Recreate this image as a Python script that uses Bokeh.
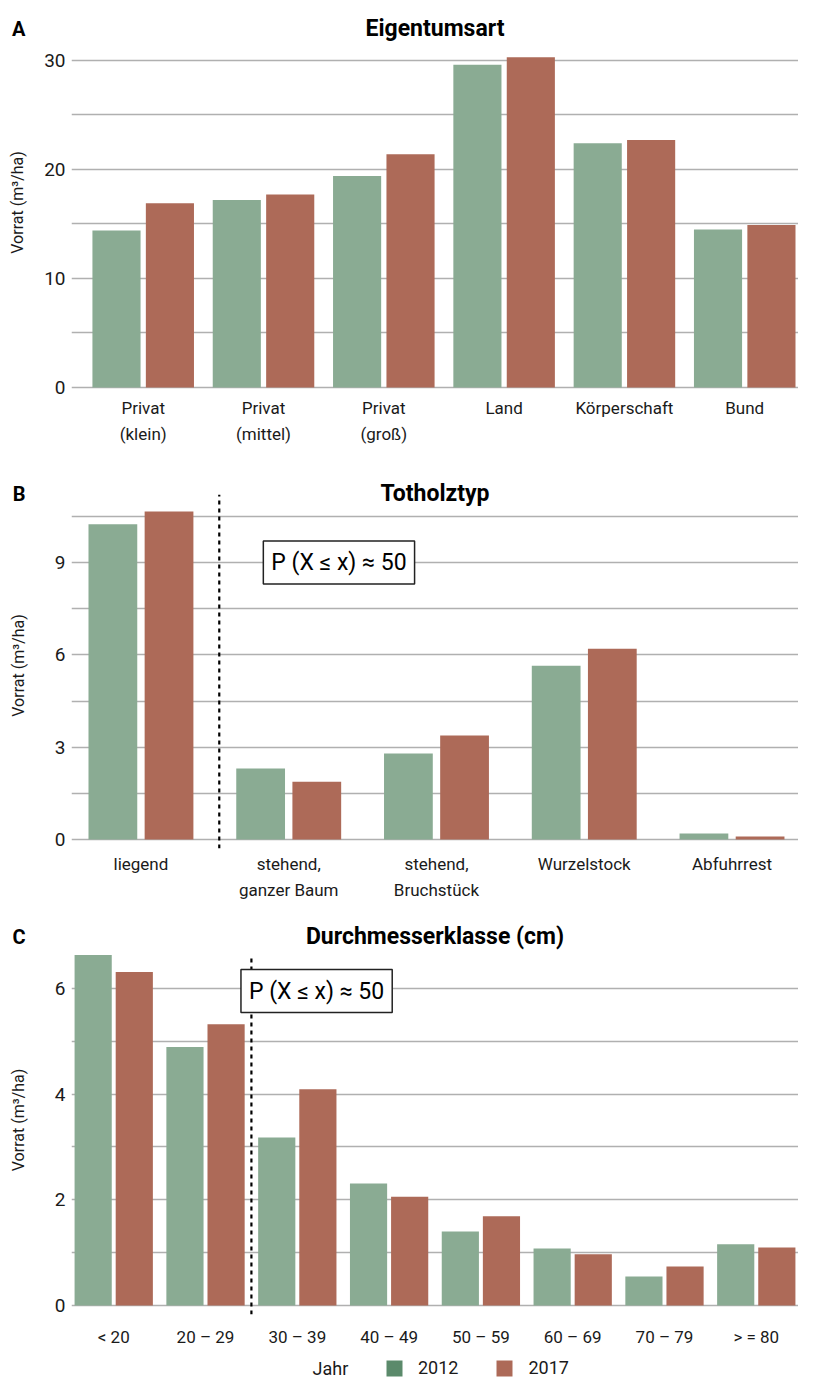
from bokeh.plotting import figure
from bokeh.layouts import column
from bokeh.models import (Range1d, FixedTicker, Label, Legend, LegendItem,
                          ColumnDataSource, LinearAxis, CustomJSTickFormatter)
from bokeh.embed import file_html
from bokeh.resources import INLINE
import numpy as np

FONT = "Roboto"
GREEN = "#8aab93"
GREEN_LEG = "#5b8a6b"
RED = "#ad6a58"
GRID = "#b0b0b0"
TXT = "#1a1a1a"

# ---- data ----
cats_a = ["Privat\n(klein)", "Privat\n(mittel)", "Privat\n(groß)", "Land", "Körperschaft", "Bund"]
a_2012 = [14.4, 17.2, 19.4, 29.6, 22.4, 14.5]
a_2017 = [16.9, 17.7, 21.4, 30.3, 22.7, 14.9]

cats_b = ["liegend", "stehend,\nganzer Baum", "stehend,\nBruchstück", "Wurzelstock", "Abfuhrrest"]
b_2012 = [10.24, 2.31, 2.80, 5.65, 0.20]
b_2017 = [10.66, 1.88, 3.38, 6.20, 0.10]

cats_c = ["< 20", "20 – 29", "30 – 39", "40 – 49", "50 – 59", "60 – 69", "70 – 79", "> = 80"]
c_2012 = [6.63, 4.89, 3.18, 2.31, 1.40, 1.08, 0.55, 1.16]
c_2017 = [6.31, 5.32, 4.09, 2.06, 1.69, 0.97, 0.74, 1.10]

years = ["2012", "2017"]
legend_title = "Jahr"
y_label = "Vorrat (m³/ha)"
annot = "P (X ≤ x) ≈ 50"

FW = 727
LEFT = 71


def panel(letter, title, cats, v1, v2, xr, yr, yticks, gticks, fh, top, bottom,
          width, off, lab_standoff, toff, xstand=5, line_x=None, box=None,
          dash_bottom=None, dash_top=None):
    n = len(cats)
    idx = np.arange(1, n + 1)
    p = figure(frame_width=FW, frame_height=fh, x_range=Range1d(*xr), y_range=Range1d(*yr),
               toolbar_location=None, output_backend="svg",
               min_border_left=LEFT, min_border_right=0, min_border_top=top,
               min_border_bottom=bottom)
    p.outline_line_color = None
    p.background_fill_color = "white"
    p.border_fill_color = "white"
    src = ColumnDataSource(dict(x1=idx - off, x2=idx + off, v1=v1, v2=v2))
    p.vbar(x="x1", top="v1", bottom=0, width=width, source=src, fill_color=GREEN, line_color=None)
    p.vbar(x="x2", top="v2", bottom=0, width=width, source=src, fill_color=RED, line_color=None)

    p.xgrid.visible = False
    p.ygrid.ticker = FixedTicker(ticks=gticks)
    p.ygrid.grid_line_color = GRID
    p.ygrid.grid_line_width = 1.4
    p.ygrid.level = "underlay"

    ya = p.yaxis[0]
    ya.ticker = FixedTicker(ticks=yticks)
    ya.axis_line_color = None
    ya.major_tick_line_color = None
    ya.minor_tick_line_color = None
    ya.major_tick_out = 0
    ya.minor_tick_out = 0
    ya.major_label_text_font = FONT
    ya.major_label_text_font_size = "19px"
    ya.major_label_text_color = TXT
    ya.major_label_standoff = 6
    ya.axis_label = y_label
    ya.axis_label_text_font = FONT
    ya.axis_label_text_font_size = "16px"
    ya.axis_label_text_font_style = "normal"
    ya.axis_label_text_color = TXT
    ya.axis_label_standoff = lab_standoff

    xa = p.xaxis[0]
    xa.ticker = FixedTicker(ticks=list(idx))
    xa.major_label_overrides = {int(i): c for i, c in zip(idx, cats)}
    xa.axis_line_color = None
    xa.major_tick_line_color = None
    xa.minor_tick_line_color = None
    xa.major_tick_out = 0
    xa.minor_tick_out = 0
    xa.major_label_text_font = FONT
    xa.major_label_text_font_size = "17px"
    xa.major_label_text_color = TXT
    xa.major_label_text_line_height = 1.3
    xa.major_label_standoff = xstand

    # panel letter as the tick label of an extra, outer left axis
    ly = yr[1] - toff * (yr[1] - yr[0]) / fh
    la = LinearAxis(ticker=FixedTicker(ticks=[ly]),
                    formatter=CustomJSTickFormatter(code="return '%s'" % letter),
                    axis_line_color=None, major_tick_line_color=None,
                    minor_tick_line_color=None, major_tick_out=0, minor_tick_out=0,
                    major_label_standoff=-20, major_label_text_font=FONT,
                    major_label_text_font_size="20px", major_label_text_font_style="bold",
                    major_label_text_color="black")
    p.add_layout(la, "left")

    # main title
    p.add_layout(Label(x=(xr[0] + xr[1]) / 2, y=fh - toff, x_units="data", y_units="screen",
                       text=title, text_font=FONT, text_font_size="23px",
                       text_font_style="bold", text_align="center", text_baseline="middle",
                       text_color="black"))
    if line_x is not None:
        p.segment(x0=[line_x], x1=[line_x], y0=[dash_bottom], y1=[dash_top],
                  line_color="black", line_width=2.2, line_dash="4 4")
    if box is not None:
        p.add_layout(Label(x=box[0], y=box[1], text=annot, text_font=FONT,
                           text_font_size="23px", text_align="center",
                           text_baseline="middle", text_color="black",
                           border_line_color="#222222", border_line_width=1.5,
                           background_fill_color="white", background_fill_alpha=1.0,
                           padding=8))
    return p


pa = panel("A", "Eigentumsart", cats_a, a_2012, a_2017,
           xr=(0.404, 6.447), yr=(-0.46, 34.4), yticks=[0, 10, 20, 30],
           gticks=[0, 5, 10, 15, 20, 25, 30], fh=380, top=12, bottom=76,
           width=0.40, off=0.222, lab_standoff=14, toff=16)

pb = panel("B", "Totholztyp", cats_b, b_2012, b_2017,
           xr=(0.53, 5.45), yr=(-0.29, 11.6), yticks=[0, 3, 6, 9],
           gticks=[0, 1.5, 3, 4.5, 6, 7.5, 9, 10.5], fh=366, top=14, bottom=70,
           width=0.33, off=0.19, lab_standoff=24, toff=11,
           line_x=1.53, box=(2.34, 9.0), dash_bottom=-0.29, dash_top=11.2)

pc = panel("C", "Durchmesserklasse (cm)", cats_c, c_2012, c_2017,
           xr=(0.54, 8.46), yr=(-0.17, 7.19), yticks=[0, 2, 4, 6],
           gticks=[0, 1, 2, 3, 4, 5, 6], fh=389, top=7, bottom=34,
           width=0.405, off=0.224, lab_standoff=24, toff=11, xstand=12,
           line_x=2.5, box=(3.21, 5.95), dash_bottom=-0.17, dash_top=6.6)

# legend strip: legend proxies use the panel-C series, kept outside the strip's view
pl = figure(frame_width=FW, frame_height=26, x_range=Range1d(-3, -2), y_range=Range1d(50, 51),
            toolbar_location=None, output_backend="svg",
            min_border_left=LEFT, min_border_right=0, min_border_top=6, min_border_bottom=0)
pl.axis.visible = False
pl.grid.visible = False
pl.outline_line_color = None
idx_c = np.arange(1, len(cats_c) + 1)
r1 = pl.vbar(x=idx_c, top=c_2012, bottom=0, width=0.4, fill_color=GREEN_LEG, line_color=None)
r2 = pl.vbar(x=idx_c, top=c_2017, bottom=0, width=0.4, fill_color=RED, line_color=None)
leg = Legend(items=[LegendItem(label=years[0], renderers=[r1]),
                    LegendItem(label=years[1], renderers=[r2])],
             orientation="horizontal", location=(313, 3),
             label_text_font=FONT, label_text_font_size="18px", label_text_color=TXT,
             glyph_width=20, glyph_height=20, label_height=20, label_standoff=14, spacing=36,
             border_line_color=None, background_fill_alpha=0, margin=0, padding=0)
pl.add_layout(leg)
pl.add_layout(Label(x=241, y=13, x_units="screen", y_units="screen", text=legend_title,
                    text_font=FONT, text_font_size="18px", text_color=TXT,
                    text_align="left", text_baseline="middle"))

layout = column(pa, pb, pc, pl, spacing=0)
open("out.html", "w").write(file_html(layout, INLINE))
